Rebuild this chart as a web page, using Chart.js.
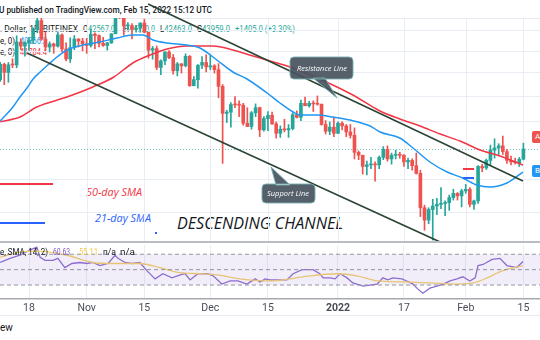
<!DOCTYPE html>
<html>
<head>
<meta charset="utf-8">
<title>BTC/USD daily - descending channel</title>
<script src="https://cdn.jsdelivr.net/npm/chart.js@4.4.1/dist/chart.umd.min.js"></script>
<style>
  html, body { margin: 0; padding: 0; background: #fff; }
  body { position: relative; width: 540px; height: 340px; overflow: hidden;
         font-family: Roboto, "Liberation Sans", Arial, sans-serif; color: #131722; }
  canvas { position: absolute; left: 0; z-index: 2; }
  #main { top: 0; }
  #rsi { top: 243px; }
  .t { position: absolute; white-space: nowrap; line-height: 1; transform-origin: 0 50%;
       transform: translateY(-50%); z-index: 1; }
  .i { font-family: "Open Sans", Roboto, sans-serif; font-style: italic; }
  .top { z-index: 3; }
  .rule { position: absolute; left: 0; width: 540px; z-index: 1; }
  .tag { position: absolute; left: 532px; width: 20px; border-radius: 2px; color: #fff;
         font-size: 8px; padding-left: 3px; box-sizing: border-box; z-index: 3; }
  .up { color: #26a69a; }
</style>
</head>
<body>
<canvas id="main" width="540" height="243"></canvas>
<canvas id="rsi" width="540" height="76"></canvas>

<div class="rule" style="top:18px;height:1px;background:#e6e9ef"></div>
<div class="rule" style="top:241px;height:2px;background:#b9bcc4;z-index:3"></div>
<div class="rule" style="top:315px;height:1px;background:#e6e9ef"></div>

<!-- header -->
<div class="t" data-w="213" style="left:-1px;top:10px;font-size:9px;font-weight:500">U published on TradingView.com, Feb 15, 2022 15:12 UTC</div>
<div class="t" data-w="78" style="left:0;top:29px;font-size:8.5px">. Dollar, 1D, BITFINEX</div>
<div class="t" data-w="32" style="left:83px;top:29px;font-size:8.5px">O<span class="up">42567.0</span></div>
<div class="t" data-w="31" style="left:124px;top:29px;font-size:8.5px">H<span class="up">44770.0</span></div>
<div class="t" data-w="32" style="left:160px;top:29px;font-size:8.5px">L<span class="up">42463.0</span></div>
<div class="t" data-w="33" style="left:197px;top:29px;font-size:8.5px">C<span class="up">43959.0</span></div>
<div class="t up" data-w="60" style="left:235px;top:29px;font-size:8.5px">+1405.0 (+3.30%)</div>
<div class="t" data-w="15" style="left:0;top:41px;font-size:8.5px">e, 0)</div>
<div class="t" data-w="27" style="left:20px;top:41px;font-size:8.5px;color:#2196f3">40866.2</div>
<div class="t" data-w="15" style="left:0;top:52px;font-size:8.5px">e, 0)</div>
<div class="t" data-w="27" style="left:20px;top:52px;font-size:8.5px;color:#f23645">41784.4</div>

<!-- drawing labels -->
<div class="t i" data-w="56" style="left:86px;top:192px;font-size:10.5px;color:#f23645">50-day SMA</div>
<div class="t i" data-w="56" style="left:95px;top:218px;font-size:10.5px;color:#2962ff">21-day SMA</div>
<div class="t i" data-w="166" style="left:177px;top:222px;font-size:17px;color:#131722">DESCENDING CHANNEL</div>
<div class="t i top" data-w="50" style="left:297px;top:68px;font-size:8px;color:#fff">Resistance Line</div>
<div class="t i top" data-w="42" style="left:267px;top:193px;font-size:8px;color:#fff">Support Line</div>

<div class="tag" style="top:131px;height:12px;line-height:12px;background:#ef5350">A</div>
<div class="tag" style="top:165px;height:12px;line-height:12px;background:#2196f3">B</div>

<!-- RSI legend -->
<div class="t top" data-w="48" style="left:0;top:252px;font-size:8.5px">e, SMA, 14, 2)</div>
<div class="t top" data-w="17" style="left:53px;top:252px;font-size:8.5px;color:#7e57c2">60.63</div>
<div class="t top" data-w="19" style="left:79px;top:252px;font-size:8.5px;color:#f2c94c">55.11</div>
<div class="t top" data-w="13" style="left:103px;top:252px;font-size:8.5px">n/a</div>
<div class="t top" data-w="15" style="left:120px;top:252px;font-size:8.5px">n/a</div>
<div class="t" style="left:0;top:328px;font-size:10px">ew</div>

<script>
// day 0 = Oct 18 2021; first candle is Oct 11 2021
const firstDay = -7;
const xMin = -7.04;
const xMax = 124.03;

// daily candles, Oct 11 2021 .. Feb 15 2022
const open = [
  54680, 57480, 56010, 57370, 57350, 61670, 60880, 61530, 62030, 64280, 66000, 62200, 60690, 61300, 60860, 63080, 60330, 58450, 60600, 62250, 61850,
  61300, 61000, 63220, 62940, 61410, 61000, 61500, 63300, 67550, 66950, 64900, 64950, 64200, 64400, 65500, 63600, 60100, 60400, 56900, 58100, 59750, 58700, 56300, 57550, 57200, 58950, 53700, 54750, 57300, 57800,
  57000, 57200, 56500, 53600, 49200, 49400, 50600, 50550, 50500, 47700, 47200, 49300, 50100, 46700, 48400, 48900, 47600, 46200, 46800, 46700, 46900, 49000, 48600, 50800, 50400, 50800, 50700, 50650, 47500, 46500, 47100,
  46200, 47700, 47300, 46400, 45900, 43500, 43100, 41600, 41800, 41900, 41800, 42800, 43900, 42600, 43100, 43200, 43100, 42200, 42400, 41700, 40700, 36500, 35100, 36300, 36700, 36900, 37000, 37100, 37700, 38200, 37900,
  38500, 38700, 36900, 37300, 41600, 41400, 42400, 43800, 44100, 44400, 43600, 42400, 42200, 42100, 42567
];
const high = [
  57830, 57680, 57800, 58500, 62900, 62330, 61700, 62600, 64480, 67000, 66600, 63700, 61700, 61470, 63700, 63290, 61500, 62500, 62950, 62350, 62400,
  62400, 64250, 63500, 63100, 62600, 61600, 63300, 67800, 68500, 69000, 65600, 65400, 65000, 65500, 66300, 63600, 60800, 60900, 58300, 59800, 60000, 59300, 57800, 57600, 59400, 59100, 55300, 57400, 58900, 59200,
  59100, 57400, 57600, 53900, 49700, 50900, 51900, 51200, 50800, 50100, 49500, 50700, 50200, 48700, 49500, 49400, 47900, 47300, 48300, 47500, 49300, 49600, 51300, 51800, 51100, 51200, 52000, 50700, 48100, 47900, 48500,
  47900, 47900, 47500, 47500, 47000, 43700, 43100, 42300, 42800, 42200, 43000, 44300, 44400, 43400, 43800, 43500, 43200, 42700, 42600, 43400, 41100, 36800, 36500, 37500, 37600, 38900, 37300, 38000, 38700, 38300, 38700,
  39300, 38900, 37400, 41700, 41900, 42600, 44500, 45400, 44700, 45800, 43900, 43000, 42700, 42800, 44770
];
const low = [
  54430, 53880, 54300, 56850, 56850, 60200, 58960, 60050, 61350, 63500, 62000, 60000, 59750, 59500, 60670, 59800, 58100, 57800, 60200, 60700, 59950,
  59500, 60700, 60400, 60700, 60800, 60100, 61400, 63300, 66400, 63000, 64100, 62300, 63600, 63600, 63500, 58600, 58400, 56500, 55600, 57400, 58500, 55700, 55400, 55900, 57000, 53600, 53700, 53300, 56700, 56100,
  56500, 55900, 51700, 42000, 47800, 47100, 50100, 48700, 47400, 47200, 46800, 48700, 45700, 46500, 46600, 47500, 45500, 45600, 46400, 45600, 46700, 48500, 48100, 50500, 50200, 49500, 50500, 47400, 46100, 46000, 45700,
  46200, 46700, 45700, 45500, 42600, 42500, 40600, 40500, 41300, 39700, 41300, 42500, 42300, 41900, 42600, 42700, 41600, 41300, 41100, 40600, 35500, 34000, 34700, 32950, 35700, 36400, 35600, 36200, 37400, 37400, 36600,
  38200, 36600, 36300, 37000, 40900, 41200, 41700, 42700, 43200, 43200, 42000, 41800, 41900, 41600, 42463
];
const close = [
  57480, 56010, 57370, 57350, 61670, 60880, 61530, 62030, 64280, 66000, 62200, 60690, 61300, 60860, 63080, 60330, 58450, 60600, 62250, 61850, 61300,
  61000, 63220, 62940, 61410, 61000, 61500, 63300, 67550, 66950, 64900, 64950, 64200, 64400, 65500, 63600, 60100, 60400, 56900, 58100, 59750, 58700, 56300, 57550, 57200, 58950, 53700, 54750, 57300, 57800, 57000,
  57200, 56500, 53600, 49200, 49400, 50600, 50550, 50500, 47700, 47200, 49300, 50100, 46700, 48400, 48900, 47600, 46200, 46800, 46700, 46900, 49000, 48600, 50800, 50400, 50800, 50700, 50650, 47500, 46500, 47100, 46200,
  47700, 47300, 46400, 45900, 43500, 43100, 41600, 41800, 41900, 41800, 42800, 43900, 42600, 43100, 43200, 43100, 42200, 42400, 41700, 40700, 36500, 35100, 36300, 36700, 36900, 37000, 37100, 37700, 38200, 37900, 38500,
  38700, 36900, 37300, 41600, 41400, 42400, 43800, 44100, 44400, 43600, 42400, 42200, 42100, 42554, 43959
];

// moving averages (day, price)
const sma21Days = [-7, -3.9, -2.2, -0.5, 1.0, 2.7, 5.1, 6.8, 9.2, 13.1, 17.2, 21.4, 25.2, 27.7, 30.1, 33.5, 38.3, 41.5, 45.6, 49.5, 52.9, 57.8, 60.9, 64.1, 65.8, 69.9, 73.8, 77.9, 82.8, 85.2, 90.0, 93.2, 97.3, 101.5, 105.3, 108.7, 111.9, 116.0, 119.9];
const sma21 = [48030, 50210, 51820, 53320, 54860, 56090, 57710, 58810, 60130, 61090, 61680, 62460, 63060, 63060, 62070, 61480, 61090, 60510, 58260, 56090, 54860, 52480, 50850, 49420, 48950, 48950, 48640, 48180, 47280, 46390, 45520, 44100, 42190, 40870, 40100, 39230, 38980, 39480, 40866];
const sma50Days = [-7, -2.2, 1.9, 9.2, 15.5, 20.6, 25.2, 29.4, 33.5, 38.3, 44.7, 49.5, 54.4, 58.5, 63.3, 68.9, 78.6, 85.2, 90.0, 94.9, 99.8, 104.6, 109.5, 114.3, 119.9];
const sma50 = [47900, 48640, 50210, 51820, 53490, 55210, 57710, 59190, 60320, 60900, 60900, 60130, 59000, 58070, 56980, 55385, 52150, 49570, 48340, 47280, 46090, 45080, 43820, 42990, 41784];

// channel trend lines (two anchor points each)
const resistDays = [28.9, 119.9];
const resistPrices = [69555, 39730];
const supportDays = [-0.5, 99.8];
const supportPrices = [59560, 32750];

// price axis range and grid levels
const priceMin = 32650;
const priceMax = 66540;
const gridPrices = [64000, 60000, 56000, 52000, 48000, 40000, 36000];

// RSI pane
const rsiDays = [-7.0, -4.6, -2.2, 0.2, 1.9, 2.7, 3.9, 5.8, 7.0, 8.7, 10.4, 12.4, 14.1, 15.5, 17.2, 19.2, 20.9, 21.6, 23.3, 25.0, 26.9, 28.6, 30.6, 32.5, 34.7, 36.7, 37.9, 39.1, 41.0, 43.4, 44.7, 46.8, 48.8, 50.7, 52.9, 54.9, 56.1, 57.3, 58.5, 60.2, 62.6, 64.1, 66.3, 68.9, 70.6, 71.4, 73.1, 74.3, 75.5, 77.2, 78.6, 81.1, 84.5, 85.9, 87.1, 88.3, 90.5, 91.7, 93.2, 94.4, 95.6, 97.3, 99.0, 100.5, 102.2, 103.9, 105.3, 107.0, 108.3, 109.0, 110.2, 112.4, 114.3, 116.0, 118.4, 119.9];
const rsi = [59.3, 64.7, 68.7, 75.3, 79.3, 66, 62, 62, 64.7, 52.7, 58, 59.3, 58, 59.3, 55.3, 58, 68.7, 64.7, 59.3, 58, 59.3, 48.7, 38, 44.7, 39.3, 43.3, 44.7, 36.7, 44.7, 44.7, 42, 31.3, 35.3, 35.3, 31.3, 38, 34, 38, 36.7, 36.7, 36.7, 44.7, 50, 50, 44.7, 39.3, 39.3, 38, 44.7, 39.3, 32.7, 28.7, 31.3, 39.3, 36.7, 39.3, 38, 35.3, 31.3, 24.7, 19.3, 26, 28.7, 31.3, 35.3, 38, 40.7, 35.3, 39.3, 55.3, 56.7, 63.3, 64.7, 55.3, 52.7, 60.63];
const rsiMaDays = [-7, -2.2, 1.9, 9.2, 15.5, 20.4, 26.9, 31.8, 36.7, 41.5, 45.6, 51.2, 58.5, 63.3, 68.2, 74.8, 79.6, 84.5, 90.8, 97.3, 103.9, 107.8, 111.2, 115.0, 119.9];
const rsiMa = [66, 72.7, 74, 68.7, 59.3, 58, 58, 52.7, 46, 44.7, 43.3, 38, 35.3, 38, 42, 44.7, 42, 35.3, 34, 32.7, 31.3, 32.7, 39.3, 48.7, 55.11];
const rsiLevels = [70, 50, 30];
const rsiMin = 12.67;
const rsiMax = 82;

const tickDays = [0, 14, 28, 44, 58, 75, 91, 106, 120];
const tickLabels = ['18', 'Nov', '15', 'Dec', '15', '2022', '17', 'Feb', '15'];

const upColor = '#26a69a';
const downColor = '#ef5350';
const days = open.map((_, i) => firstDay + i);
const pts = (xs, ys) => xs.map((d, i) => ({ x: d, y: ys[i] }));
const candleColor = c => close[c.dataIndex] >= open[c.dataIndex] ? upColor : downColor;

Chart.defaults.font.family = 'Roboto, "Liberation Sans", sans-serif';

function seg(ctx, x1, y1, x2, y2) {
    ctx.beginPath();
    ctx.moveTo(x1, y1);
    ctx.lineTo(x2, y2);
    ctx.stroke();
}

// rounded box with a pointer, tradingview callout style
function callout(ctx, x, y, w, h, tri) {
    const r = 4;
    ctx.beginPath();
    ctx.moveTo(x + r, y);
    ctx.arcTo(x + w, y, x + w, y + h, r);
    ctx.arcTo(x + w, y + h, x, y + h, r);
    ctx.arcTo(x, y + h, x, y, r);
    ctx.arcTo(x, y, x + w, y, r);
    ctx.closePath();
    ctx.moveTo(tri[0][0], tri[0][1]);
    ctx.lineTo(tri[1][0], tri[1][1]);
    ctx.lineTo(tri[2][0], tri[2][1]);
    ctx.closePath();
    ctx.fillStyle = 'rgba(70, 83, 94, 0.92)';
    ctx.fill();
    ctx.strokeStyle = 'rgba(120, 175, 178, 0.9)';
    ctx.lineWidth = 1;
    ctx.stroke();
}

const mainOverlay = {
    id: 'mainOverlay',
    beforeDatasetsDraw(chart) {
        const { ctx, chartArea: a, scales: { x, y } } = chart;
        ctx.save();
        ctx.strokeStyle = '#e9eef4';
        ctx.lineWidth = 1;
        tickDays.forEach(d => {
            const px = Math.round(x.getPixelForValue(d)) + 0.5;
            seg(ctx, px, a.top, px, a.bottom);
        });
        gridPrices.forEach(p => {
            const py = Math.round(y.getPixelForValue(p)) + 0.5;
            seg(ctx, a.left, py, a.right, py);
        });
        // last price line
        const py = Math.round(y.getPixelForValue(close[close.length - 1])) + 0.5;
        ctx.strokeStyle = 'rgba(38, 166, 154, 0.65)';
        ctx.setLineDash([1, 2]);
        seg(ctx, a.left, py, a.right, py);
        ctx.restore();
    },
    afterDatasetsDraw(chart) {
        const { ctx } = chart;
        ctx.save();
        // legend strokes for the two averages
        ctx.lineWidth = 2;
        ctx.strokeStyle = '#f23645';
        seg(ctx, 0, 184, 53, 184);
        seg(ctx, 463, 169, 474, 169);
        ctx.strokeStyle = '#2962ff';
        seg(ctx, 0, 223, 45, 223);
        seg(ctx, 463, 178, 474, 178);
        ctx.fillStyle = '#2962ff';
        ctx.fillRect(155, 232, 2, 2);

        callout(ctx, 290, 57, 63, 22, [[313, 78], [325, 78], [337, 98]]);
        callout(ctx, 262, 184, 53, 19, [[276, 185], [290, 185], [271, 167]]);
        ctx.restore();
    }
};

new Chart(document.getElementById('main'), {
    type: 'bar',
    data: {
        datasets: [
            {
                type: 'line', label: 'Resistance', data: pts(resistDays, resistPrices),
                borderColor: '#2b4434', borderWidth: 1.6, pointRadius: 0, clip: false, order: 1
            },
            {
                type: 'line', label: 'Support', data: pts(supportDays, supportPrices),
                borderColor: '#2b4434', borderWidth: 1.6, pointRadius: 0, order: 1
            },
            {
                type: 'line', label: 'SMA 21', data: pts(sma21Days, sma21),
                borderColor: '#2196f3', borderWidth: 1.5, pointRadius: 0, cubicInterpolationMode: 'monotone', order: 2
            },
            {
                type: 'line', label: 'SMA 50', data: pts(sma50Days, sma50),
                borderColor: '#f23645', borderWidth: 1.5, pointRadius: 0, cubicInterpolationMode: 'monotone', order: 2
            },
            {
                label: 'Body', data: days.map((d, i) => ({ x: d, y: [open[i], close[i]] })),
                backgroundColor: candleColor, barThickness: 3, minBarLength: 1, grouped: false, order: 3
            },
            {
                label: 'Wick', data: days.map((d, i) => ({ x: d, y: [low[i], high[i]] })),
                backgroundColor: candleColor, barThickness: 1, grouped: false, order: 4
            }
        ]
    },
    options: {
        responsive: false,
        animation: false,
        events: [],
        layout: { padding: { top: 18, left: 0, right: 0, bottom: 0 } },
        plugins: { legend: { display: false }, tooltip: { enabled: false } },
        scales: {
            x: { type: 'linear', min: xMin, max: xMax, offset: false, display: false },
            y: { type: 'logarithmic', min: priceMin, max: priceMax, display: false }
        }
    },
    plugins: [mainOverlay]
});

const levelLine = (v, fill) => ({
    label: 'level ' + v, data: [{ x: xMin, y: v }, { x: xMax, y: v }],
    borderColor: '#9598a1', borderWidth: 1, borderDash: [4, 3], pointRadius: 0,
    fill: fill, backgroundColor: 'rgba(126, 87, 194, 0.1)'
});

new Chart(document.getElementById('rsi'), {
    type: 'line',
    data: {
        datasets: [
            levelLine(rsiLevels[0], 2),
            levelLine(rsiLevels[1], false),
            levelLine(rsiLevels[2], false),
            {
                label: 'RSI MA', data: pts(rsiMaDays, rsiMa), borderColor: '#f2d16b',
                borderWidth: 1.3, pointRadius: 0, cubicInterpolationMode: 'monotone'
            },
            {
                label: 'RSI', data: pts(rsiDays, rsi), borderColor: '#8e6fd0',
                borderWidth: 1.3, pointRadius: 0
            }
        ]
    },
    options: {
        responsive: false,
        animation: false,
        events: [],
        layout: { padding: { top: 2, left: 0, right: 0, bottom: 0 } },
        plugins: { legend: { display: false }, tooltip: { enabled: false } },
        scales: {
            x: {
                type: 'linear', min: xMin, max: xMax, offset: false,
                afterBuildTicks: scale => { scale.ticks = tickDays.map(v => ({ value: v })); },
                ticks: {
                    autoSkip: false, maxRotation: 0, padding: 4, color: '#4a4d57',
                    font: c => ({ size: 10.5, weight: c.tick && c.tick.value === 75 ? 'bold' : 'normal' }),
                    callback: (v, i) => tickLabels[i]
                },
                grid: { color: '#e9eef4', drawTicks: false },
                border: { color: '#a6a9b1', width: 1.5 }
            },
            y: { type: 'linear', min: rsiMin, max: rsiMax, display: false }
        }
    }
});

// squeeze the legend texts to the widths they take in the screenshot
document.fonts.ready.then(() => {
    document.querySelectorAll('.t[data-w]').forEach(el => {
        const k = el.dataset.w / el.getBoundingClientRect().width;
        el.style.transform = `translateY(-50%) scaleX(${k})`;
    });
});
</script>
</body>
</html>
